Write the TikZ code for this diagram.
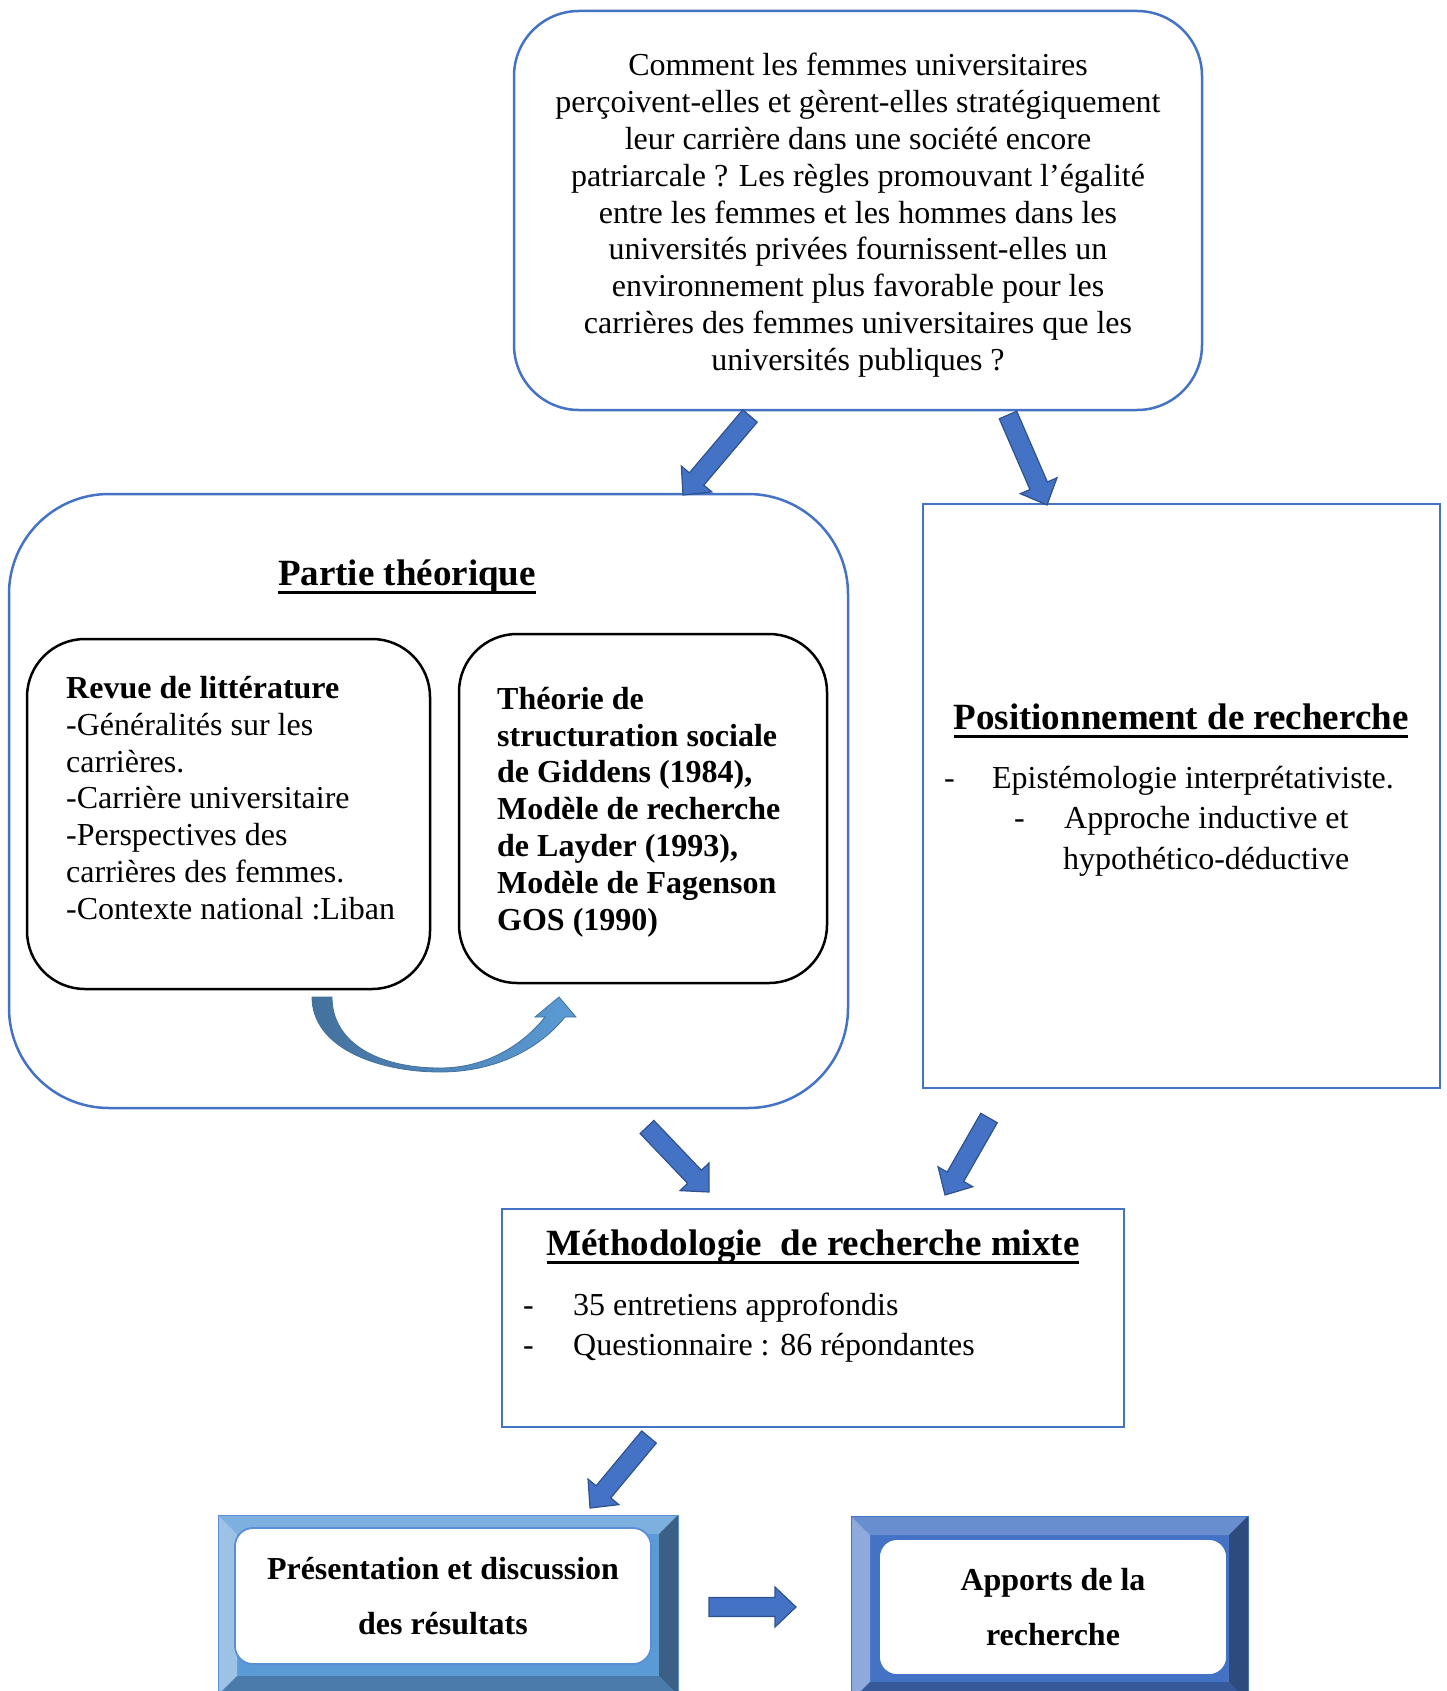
\documentclass[tikz,border=0pt]{standalone}
\usepackage{fontspec}
\setmainfont{Liberation Serif}
\usetikzlibrary{calc}

\definecolor{qblue}{HTML}{4472C4}
\definecolor{arrowfill}{HTML}{4472C4}
\definecolor{arrowline}{HTML}{2F528F}
\definecolor{curveL}{HTML}{44719E}
\definecolor{curveR}{HTML}{5B9BD5}
\definecolor{curveline}{HTML}{41719C}
%% bevel colours
\definecolor{prtop}{HTML}{7DB0DF}
\definecolor{prleft}{HTML}{9CC2E5}
\definecolor{prright}{HTML}{3C6085}
\definecolor{prbot}{HTML}{4A7BAB}
\definecolor{prflat}{HTML}{5B9BD5}
\definecolor{prline}{HTML}{5B8FD5}
\definecolor{aptop}{HTML}{698ED0}
\definecolor{apleft}{HTML}{8EAADC}
\definecolor{apright}{HTML}{2E4B7E}
\definecolor{apbot}{HTML}{36599A}
\definecolor{apflat}{HTML}{4472C4}
\definecolor{apline}{HTML}{4472C4}

\newcommand\txtfont{\fontsize{32}{36.8}\selectfont}
\newcommand\headfont{\fontsize{37}{42}\selectfont\bfseries}
\newcommand\headul[1]{\setbox0=\hbox{#1}\rlap{\rule[-9pt]{\wd0}{3pt}}\box0}
%% block arrow from tail #1 to tip #2
\newcommand\blockarrow[2]{%
  \filldraw[blockarr] let \p1=($(#2)-(#1)$), \n1={atan2(\y1,\x1)} in
    ($(#1)+(\n1+90:9.5pt)$) -- ($(#2)+(\n1:-21pt)+(\n1+90:9.5pt)$)
    -- ($(#2)+(\n1:-21pt)+(\n1+90:20pt)$) -- (#2)
    -- ($(#2)+(\n1:-21pt)+(\n1-90:20pt)$) -- ($(#2)+(\n1:-21pt)+(\n1-90:9.5pt)$)
    -- ($(#1)+(\n1-90:9.5pt)$) -- cycle;}

\begin{document}
\begin{tikzpicture}
[x=1pt,y=-1pt,
  bluebox/.style={draw=qblue,line width=2.5pt,inner sep=0pt},
  blackbox/.style={draw=black,line width=2.5pt,rounded corners=58pt,inner sep=0pt},
  whitebox/.style={fill=white,line width=1.8pt,rounded corners=18pt,inner sep=0pt,align=center},
  txt/.style={inner sep=0pt,font=\txtfont},
  head/.style={inner sep=0pt,font=\headfont},
  blockarr/.style={fill=arrowfill,draw=arrowline,line width=1.2pt},
  curvearr/.style={left color=curveL,right color=curveR,draw=curveline,line width=0.8pt}]
\useasboundingbox (0,0) rectangle (1447,1691);

%% question
\node[bluebox,rounded corners=65pt,minimum width=688pt,minimum height=399pt,
  align=center,font=\txtfont] (question) at (858,210.5)
  {\rule{0pt}{32pt}Comment les femmes universitaires\\perçoivent-elles et gèrent-elles stratégiquement\\
   leur carrière dans une société encore\\patriarcale ? Les règles promouvant l’égalité\\
   entre les femmes et les hommes dans les\\universités privées fournissent-elles un\\
   environnement plus favorable pour les\\carrières des femmes universitaires que les\\
   universités publiques ?};

%% partie theorique
\node[bluebox,rounded corners=100pt,minimum width=839pt,minimum height=614pt] (partie) at (428.5,801) {};
\node[head] (partietitle) at (407,577) {\headul{Partie théorique}};
\node[blackbox,minimum width=403pt,minimum height=350pt] (revue) at (228.5,814) {};
\node[blackbox,minimum width=368pt,minimum height=349pt] (theorie) at (643,808.5) {};
\node[txt,anchor=west,align=left] (revuetxt) at (66,798)
  {\textbf{Revue de littérature}\\-Généralités sur les\\carrières.\\-Carrière universitaire\\
   -Perspectives des\\carrières des femmes.\\-Contexte national :Liban};
\node[txt,font=\txtfont\bfseries,anchor=west,align=left] (theorietxt) at (497,812)
  {Théorie de\\structuration sociale\\de Giddens (1984),\\Modèle de recherche\\
   de Layder (1993),\\Modèle de Fagenson\\GOS (1990)};
\shadedraw[curvearr] (312,997) .. controls (312,1048) and (378,1072) .. (440,1072)
  .. controls (497,1072) and (540,1048) .. (565,1017) -- (576,1017) -- (559,997)
  -- (535,1017) -- (545,1017) .. controls (522,1046) and (485,1068) .. (440,1068)
  .. controls (377,1068) and (332,1042) .. (332,997) -- cycle;

%% positionnement
\node[bluebox,minimum width=517pt,minimum height=584pt] (position) at (1181.5,796) {};
\node[head] (positiontitle) at (1181,721) {\headul{Positionnement de recherche}};
\node[txt,anchor=west,align=left,font=\fontsize{32}{40.5}\selectfont] (positiontxt) at (944,821)
  {\makebox[48pt][l]{-}Epistémologie interprétativiste.\\
   \hspace*{70pt}\makebox[50pt][l]{-}Approche inductive et\\
   \hspace*{119pt}hypothético-déductive};

%% methodologie
\node[bluebox,minimum width=622pt,minimum height=218pt] (methode) at (813,1318) {};
\node[head] (methodetitle) at (813,1247) {\headul{Méthodologie\ \ de recherche mixte}};
\node[txt,anchor=west,align=left,font=\fontsize{32}{40}\selectfont] (methodetxt) at (523,1328)
  {\makebox[50pt][l]{-}35 entretiens approfondis\\\makebox[50pt][l]{-}Questionnaire : 86 répondantes};

%% bevelled frames
\foreach \xa/\ya/\xb/\yb/\nm in {218/1515/678/1695/pr, 851/1516/1248/1701/ap} {
  \fill[\nm flat] (\xa,\ya) rectangle (\xb,\yb);
  \fill[\nm top] (\xa,\ya) -- (\xb,\ya) -- (\xb-19,\ya+19) -- (\xa+19,\ya+19) -- cycle;
  \fill[\nm left] (\xa,\ya) -- (\xa+19,\ya+19) -- (\xa+19,\yb-19) -- (\xa,\yb) -- cycle;
  \fill[\nm right] (\xb,\ya) -- (\xb-19,\ya+19) -- (\xb-19,\yb-19) -- (\xb,\yb) -- cycle;
  \fill[\nm bot] (\xa,\yb) -- (\xa+19,\yb-19) -- (\xb-19,\yb-19) -- (\xb,\yb) -- cycle;
  \draw[\nm line,line width=1pt] (\xa,\ya) rectangle (\xb,\yb);
}
\node[whitebox,draw=prline,minimum width=416pt,minimum height=136pt,
  font=\fontsize{32}{55}\selectfont\bfseries] (present) at (443,1596)
  {Présentation et discussion\\des résultats};
\node[whitebox,draw=apline,minimum width=348pt,minimum height=136pt,
  font=\fontsize{32}{55}\selectfont\bfseries] (apports) at (1053,1607)
  {Apports de la\\recherche};

%% block arrows
\coordinate (t1) at (750,416);  \coordinate (h1) at (683,495);
\coordinate (t2) at (1008,415); \coordinate (h2) at (1047,505);
\coordinate (t3) at (647,1127); \coordinate (h3) at (709,1192);
\coordinate (t4) at (989,1118); \coordinate (h4) at (945,1195);
\coordinate (t5) at (649,1437); \coordinate (h5) at (590,1508);
\coordinate (t6) at (709,1607); \coordinate (h6) at (796,1607);
\foreach \tail/\tip in {t1/h1, t2/h2, t3/h3, t4/h4, t5/h5, t6/h6} {
  \blockarrow{\tail}{\tip}
}
\end{tikzpicture}
\end{document}
